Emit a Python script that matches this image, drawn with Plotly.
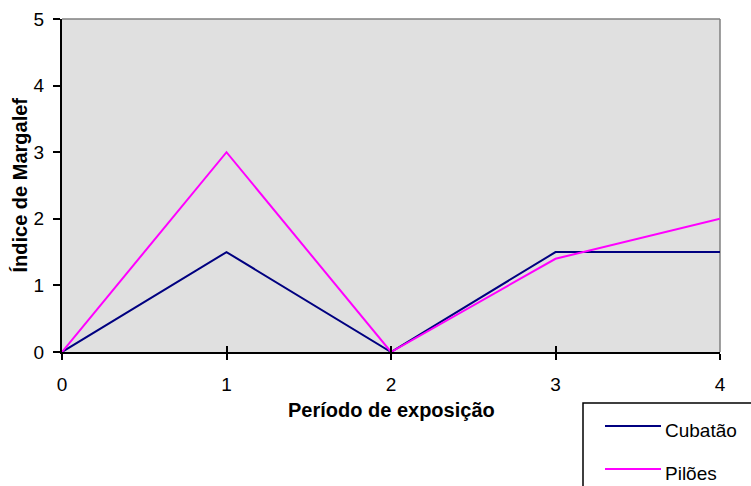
import plotly.graph_objects as go

periodos = [0, 1, 2, 3, 4]
cubatao = [0, 1.5, 0, 1.5, 1.5]
piloes = [0, 3, 0, 1.4, 2]
y_ticks = [0, 1, 2, 3, 4, 5]
series_names = ["Cubatão", "Pilões"]
series_colors = ["#000080", "#FF00FF"]

FONT = "Liberation Sans, Arial, sans-serif"
W, H = 751, 486
L, R, T, B = 62, 31, 19, 134
PW, PH = W - L - R, H - T - B


def px_x(x):
    return (x - L) / PW


def px_y(y):
    return (H - B - y) / PH


fig = go.Figure()
for name, vals, color in zip(series_names, [cubatao, piloes], series_colors):
    fig.add_trace(go.Scatter(x=periodos, y=vals, mode="lines", name=name,
                             showlegend=False, line=dict(color=color, width=2)))
# empty trace on a twin axis that carries the inward x tick marks
fig.add_trace(go.Scatter(x=periodos, y=[None] * len(periodos), xaxis="x2",
                         showlegend=False, hoverinfo="skip"))

shapes = [
    # grey frame on the top and right of the plot area
    dict(type="line", xref="paper", yref="paper", x0=0, x1=1, y0=1, y1=1,
         line=dict(color="#808080", width=1.5), layer="below"),
    dict(type="line", xref="paper", yref="paper", x0=1, x1=1, y0=0, y1=1,
         line=dict(color="#808080", width=1.5), layer="below"),
    # legend box
    dict(type="rect", xref="paper", yref="paper",
         x0=px_x(583), x1=px_x(753), y0=px_y(490), y1=px_y(403),
         line=dict(color="black", width=1.5), fillcolor="rgba(0,0,0,0)"),
]
annotations = [
    dict(text="<b>Período de exposição</b>", xref="paper", yref="paper",
         x=0.5, y=px_y(410), xanchor="center", yanchor="middle",
         showarrow=False, font=dict(size=20)),
    dict(text="<b>Índice de Margalef</b>", xref="paper", yref="paper",
         x=px_x(19), y=0.5, xanchor="center", yanchor="middle",
         textangle=-90, showarrow=False, font=dict(size=20)),
]
legend_rows = [(426, 430), (469, 473)]
for (yl, yt), name, color in zip(legend_rows, series_names, series_colors):
    shapes.append(dict(type="line", xref="paper", yref="paper",
                       x0=px_x(605), x1=px_x(661), y0=px_y(yl), y1=px_y(yl),
                       line=dict(color=color, width=2)))
    annotations.append(dict(text=name, xref="paper", yref="paper",
                            x=px_x(663), y=px_y(yt), xanchor="left",
                            yanchor="middle", showarrow=False,
                            font=dict(size=19)))

fig.update_layout(
    width=W, height=H,
    margin=dict(l=L, r=R, t=T, b=B),
    paper_bgcolor="white",
    plot_bgcolor="#E0E0E0",
    font=dict(family=FONT, size=19, color="black"),
    showlegend=False,
    xaxis=dict(range=[0, 4], tickvals=periodos, ticks="outside", ticklen=6,
               tickwidth=2, tickcolor="black", showline=True, linecolor="black",
               linewidth=2, showgrid=False, zeroline=False, automargin=False,
               ticklabelstandoff=8, tickfont=dict(size=19)),
    xaxis2=dict(range=[0, 4], tickvals=periodos, ticks="inside", ticklen=6,
                tickwidth=2, tickcolor="black", showticklabels=False,
                overlaying="x", anchor="y", side="bottom", showgrid=False,
                zeroline=False, showline=False, automargin=False),
    yaxis=dict(range=[0, 5], tickvals=y_ticks, ticks="outside", ticklen=7,
               tickwidth=2, tickcolor="black", showline=True, linecolor="black",
               linewidth=2, showgrid=False, zeroline=False, automargin=False,
               ticklabelstandoff=5, tickfont=dict(size=19)),
    shapes=shapes,
    annotations=annotations,
)

fig.write_html("out.html")
